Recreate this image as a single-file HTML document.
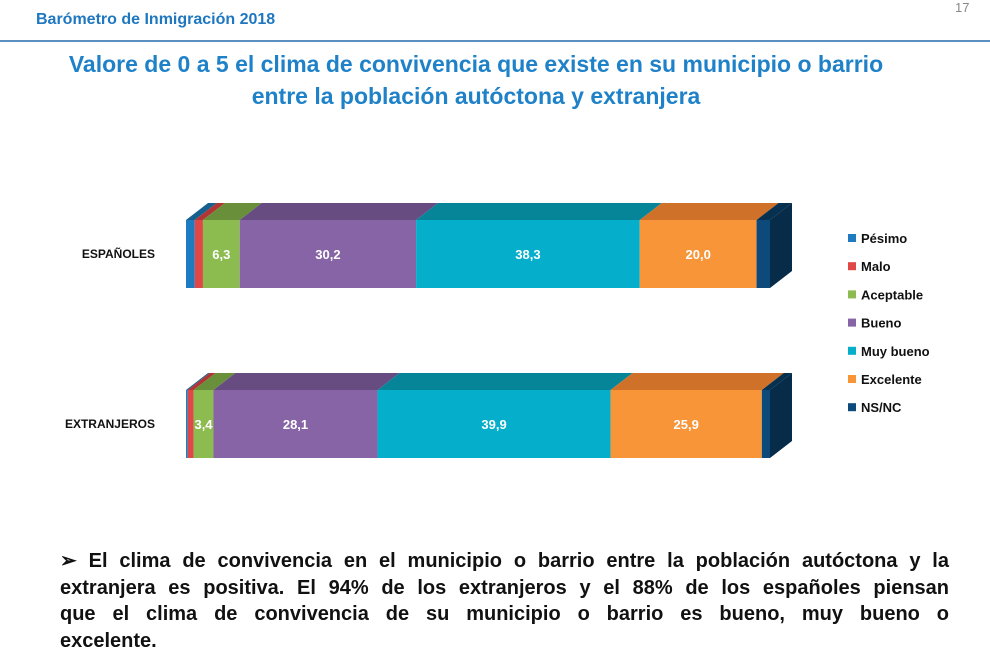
<!DOCTYPE html>
<html><head><meta charset="utf-8"><style>
body{margin:0;width:990px;height:660px;overflow:hidden;background:#fff;font-family:"Liberation Sans",sans-serif;position:relative}
.hdr{position:absolute;left:36px;top:11px;font-size:16px;font-weight:bold;color:#1f77c0}
.pg{position:absolute;left:955px;top:0px;font-size:13px;color:#888}
.line{position:absolute;left:0;top:40px;width:990px;height:2px;background:#5b8fbf}
.title{position:absolute;left:0;width:952px;top:48px;text-align:center;font-size:23px;font-weight:bold;color:#1f82c8;line-height:32px}
.bottom{position:absolute;left:60px;width:889px;top:548px;font-size:20px;font-weight:bold;line-height:26.5px;color:#111}
.bottom div{text-align:justify;text-align-last:justify;white-space:nowrap}
.bottom div.last{text-align-last:left}
</style></head><body>
<div class="hdr">Barómetro de Inmigración 2018</div>
<div class="pg">17</div>
<div class="line"></div>
<div class="title">Valore de 0 a 5 el clima de convivencia que existe en su municipio o barrio<br>entre la población autóctona y extranjera</div>
<svg id="chart" width="990" height="660" style="position:absolute;left:0;top:0"></svg>
<div class="bottom">
<div>➢ El clima de convivencia en el municipio o barrio entre la población autóctona y la</div>
<div>extranjera es positiva. El 94% de los extranjeros y el 88% de los españoles piensan</div>
<div>que el clima de convivencia de su municipio o barrio es bueno, muy bueno o</div>
<div class="last">excelente.</div>
</div>
<script>
const categories=["ESPAÑOLES","EXTRANJEROS"];
const seriesNames=["Pésimo","Malo","Aceptable","Bueno","Muy bueno","Excelente","NS/NC"];
const espanoles=[1.5,1.4,6.3,30.2,38.3,20.0,2.3];
const extranjeros=[0.3,1.0,3.4,28.1,39.9,25.9,1.4];
const labelsShown=[false,false,true,true,true,true,false];
const colors=["#1f7bbf","#e04848","#8cbb4f","#8664a5","#05aecb","#f79538","#0b4a7a"];
const topColors=["#16608f","#b03535","#6a8f3a","#664c80","#068498","#cf7128","#06304f"];
const sideColor="#062c4a";
const svg=document.getElementById('chart');
const NS='http://www.w3.org/2000/svg';
const x0=186,x1=770,dx=22,dy=17,h=68;
const rowTop=[220,390];
const xs=v=>v/100*(x1-x0);
function el(t,a){const e=document.createElementNS(NS,t);for(const k in a)e.setAttribute(k,a[k]);svg.appendChild(e);return e;}
[espanoles,extranjeros].forEach((vals,r)=>{
  const y=rowTop[r];let cx=x0;
  const lab=el('text',{x:155,y:y+h/2+4,'text-anchor':'end','font-size':12,'font-weight':'bold',fill:'#111'});
  
  
  lab.textContent=categories[r];
  vals.forEach((v,i)=>{
    const w=xs(v);
    const top=el('polygon',{points:`${cx},${y} ${cx+w},${y} ${cx+w+dx},${y-dy} ${cx+dx},${y-dy}`,fill:topColors[i]});
    
    
    const f=el('rect',{x:cx,y:y,width:w,height:h,fill:colors[i]});
    
    
    if(labelsShown[i]){
      const t=el('text',{x:cx+w/2,y:y+h/2+5,'text-anchor':'middle','font-size':13,'font-weight':'bold',fill:'#fff'});
      
      
      t.textContent=v.toFixed(1).replace('.',',');
    }
    cx+=w;
  });
  const s=el('polygon',{points:`${cx},${y} ${cx+dx},${y-dy} ${cx+dx},${y+h-dy} ${cx},${y+h}`,fill:sideColor});
  
  
});
seriesNames.forEach((n,i)=>{
  const y=243+i*28.2;
  const r=el('rect',{x:848,y:y-9,width:8,height:8,fill:colors[i]});
  
  
  const t=el('text',{x:861,y:y,'font-size':13,'font-weight':'bold',fill:'#111'});
  
  
  t.textContent=n;
});
</script>
</body></html>
